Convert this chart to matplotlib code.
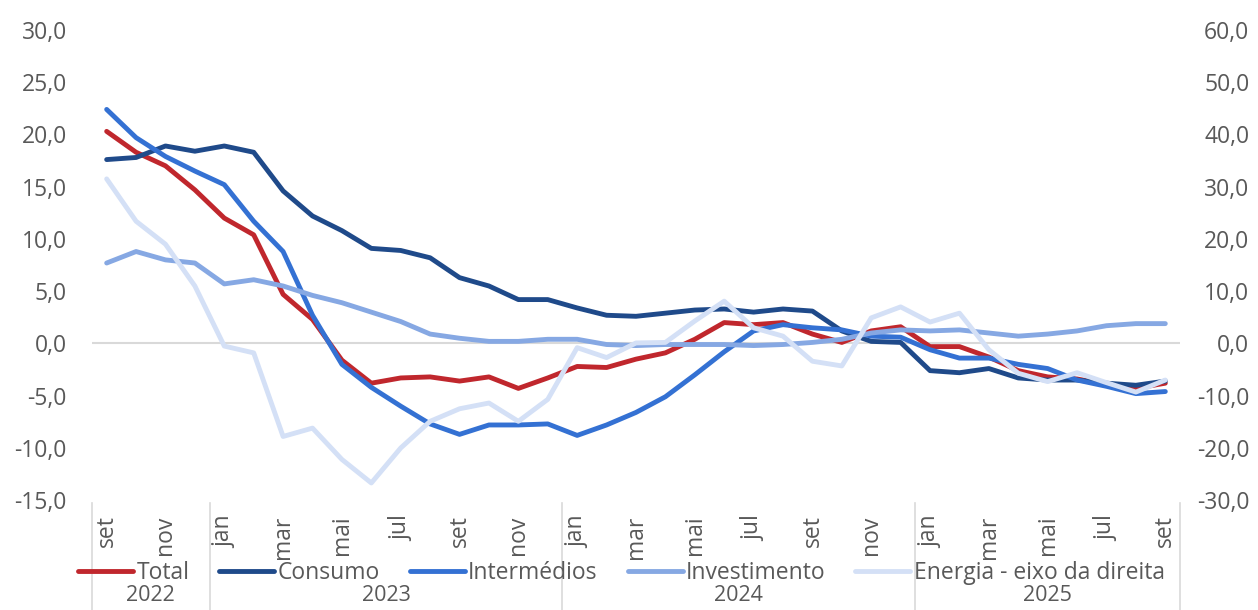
import matplotlib.pyplot as plt
import numpy as np

plt.rcParams["font.family"] = ["Open Sans", "DejaVu Sans"]

months = ["set", "out", "nov", "dez",
          "jan", "fev", "mar", "abr", "mai", "jun", "jul", "ago", "set", "out", "nov", "dez",
          "jan", "fev", "mar", "abr", "mai", "jun", "jul", "ago", "set", "out", "nov", "dez",
          "jan", "fev", "mar", "abr", "mai", "jun", "jul", "ago", "set"]
years = ["2022", "2023", "2024", "2025"]
year_bounds = [-0.5, 3.5, 15.5, 27.5, 36.5]

total = [20.3, 18.3, 17.0, 14.7, 12.0, 10.4, 4.7, 2.3, -1.6, -3.8, -3.3, -3.2, -3.6, -3.2, -4.3, -3.3,
         -2.2, -2.3, -1.5, -0.9, 0.4, 2.0, 1.8, 2.0, 0.9, 0.1, 1.2, 1.6,
         -0.3, -0.3, -1.3, -2.6, -3.2, -3.4, -3.9, -4.3, -3.8]
consumo = [17.6, 17.8, 18.9, 18.4, 18.9, 18.3, 14.6, 12.2, 10.8, 9.1, 8.9, 8.2, 6.3, 5.5, 4.2, 4.2,
           3.4, 2.7, 2.6, 2.9, 3.2, 3.3, 3.0, 3.3, 3.1, 1.2, 0.2, 0.1,
           -2.6, -2.8, -2.4, -3.3, -3.5, -3.5, -3.8, -4.0, -3.6]
intermedios = [22.4, 19.7, 17.9, 16.5, 15.2, 11.7, 8.8, 2.7, -2.0, -4.2, -6.0, -7.7, -8.7, -7.8, -7.8, -7.7,
               -8.8, -7.8, -6.6, -5.1, -3.0, -0.8, 1.2, 1.8, 1.5, 1.3, 0.7, 0.6,
               -0.6, -1.4, -1.4, -2.0, -2.4, -3.5, -4.1, -4.8, -4.6]
investimento = [7.7, 8.8, 8.0, 7.7, 5.7, 6.1, 5.5, 4.6, 3.9, 3.0, 2.1, 0.9, 0.5, 0.2, 0.2, 0.4,
                0.4, -0.1, -0.2, -0.1, -0.1, -0.1, -0.2, -0.1, 0.1, 0.4, 1.0, 1.3,
                1.2, 1.3, 1.0, 0.7, 0.9, 1.2, 1.7, 1.9, 1.9]
energia = [31.5, 23.4, 19.0, 11.0, -0.5, -1.8, -17.8, -16.2, -22.2, -26.7, -20.0, -14.9, -12.5, -11.4, -14.9, -10.7,
           -0.8, -2.7, 0.1, 0.2, 4.3, 8.1, 3.0, 1.4, -3.4, -4.3, 4.9, 7.0,
           4.1, 5.8, -1.2, -5.7, -7.3, -5.6, -7.5, -9.3, -7.0]

x = np.arange(len(months))
grey = "#595959"
lw = 3.5

fig = plt.figure(figsize=(12.58, 6.10), dpi=100)
ax = fig.add_axes([0.0731, 0.18, 0.8649, 0.7708])
ax2 = ax.twinx()

ax.axhline(0, color="#D9D9D9", lw=1.5, zorder=1)
l1, = ax.plot(x, total, color="#C0272D", lw=lw, label="Total", solid_capstyle="round")
l2, = ax.plot(x, consumo, color="#1F4A8A", lw=lw, label="Consumo", solid_capstyle="round")
l3, = ax.plot(x, intermedios, color="#3471D3", lw=lw, label="Intermédios", solid_capstyle="round")
l4, = ax.plot(x, investimento, color="#86A8E3", lw=lw, label="Investimento", solid_capstyle="round")
l5, = ax2.plot(x, energia, color="#D4E0F6", lw=lw, label="Energia - eixo da direita", solid_capstyle="round")

ax.set_xlim(-0.5, 36.5)
ax.set_ylim(-15, 30)
ax2.set_ylim(-30, 60)
ax.set_yticks(np.arange(-15, 31, 5))
ax2.set_yticks(np.arange(-30, 61, 10))
ax.set_yticklabels([f"{v:.1f}".replace(".", ",") for v in np.arange(-15, 31, 5)])
ax2.set_yticklabels([f"{v:.1f}".replace(".", ",") for v in np.arange(-30, 61, 10)], ha="right")

for a in (ax, ax2):
    for s in a.spines.values():
        s.set_visible(False)
    a.tick_params(axis="y", length=0, labelsize=16.5, labelcolor=grey)
ax.tick_params(axis="y", pad=18)
ax2.tick_params(axis="y", pad=50)

ax.set_xticks(x[::2])
ax.set_xticklabels(months[::2], rotation=90, fontsize=16.5, color=grey)
ax.tick_params(axis="x", length=0, pad=11)

tr = ax.get_xaxis_transform()
for b in year_bounds:
    ax.plot([b, b], [-0.005, -0.234], transform=tr, color="#D9D9D9", lw=1.2, clip_on=False)
for i, yr in enumerate(years):
    xc = (year_bounds[i] + year_bounds[i + 1]) / 2
    ax.text(xc, -0.202, yr, transform=tr, ha="center", va="center", fontsize=15.5, color=grey)

fig.legend(handles=[l1, l2, l3, l4, l5], loc="center", bbox_to_anchor=(0.494, 0.0607), ncol=5,
           frameon=False, handlelength=2.4, handletextpad=0.15, columnspacing=1.3,
           labelcolor=grey, fontsize=16.5)

fig.savefig("out.png", dpi=100)
